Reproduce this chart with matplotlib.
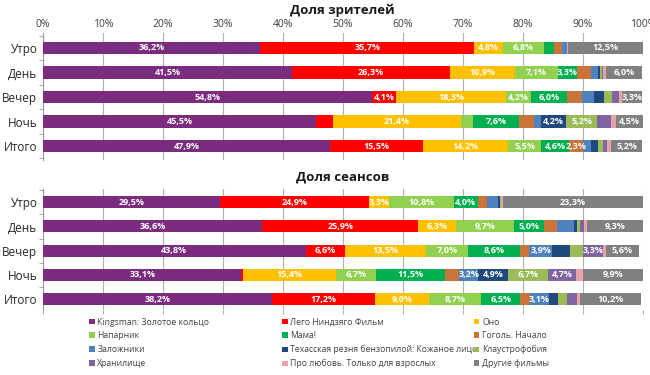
import matplotlib
matplotlib.use("Agg")
from matplotlib import pyplot as plt
from matplotlib.patches import Patch
import numpy as np

plt.rcParams['font.family'] = ['Open Sans', 'DejaVu Sans']

rows = ["Утро", "День", "Вечер", "Ночь", "Итого"]

films = ["Kingsman: Золотое кольцо", "Лего Ниндзяго Фильм", "Оно",
         "Напарник", "Мама!", "Гоголь. Начало",
         "Заложники", "Техасская резня бензопилой: Кожаное лицо", "Клаустрофобия",
         "Хранилище", "Про любовь. Только для взрослых", "Другие фильмы"]

colors = ["#7B2C7F", "#FF0000", "#FFC000",
          "#92D050", "#00B050", "#C8743A",
          "#4F81BD", "#1F497D", "#9BBB59",
          "#8064A2", "#E6A3A8", "#808080"]

# доля зрителей, % (rows: Утро, День, Вечер, Ночь, Итого)
viewers = {
    "Kingsman: Золотое кольцо": [36.2, 41.5, 54.8, 45.5, 47.9],
    "Лего Ниндзяго Фильм": [35.7, 26.3, 4.1, 2.8, 15.5],
    "Оно": [4.8, 10.9, 18.3, 21.4, 14.2],
    "Напарник": [6.8, 7.1, 4.2, 2.0, 5.5],
    "Мама!": [1.7, 3.3, 6.0, 7.6, 4.6],
    "Гоголь. Начало": [1.3, 2.3, 2.5, 2.5, 2.3],
    "Заложники": [0.9, 1.2, 2.0, 1.2, 1.3],
    "Техасская резня бензопилой: Кожаное лицо": [0.0, 0.3, 1.7, 4.2, 1.2],
    "Клаустрофобия": [0.0, 0.3, 1.3, 5.2, 0.8],
    "Хранилище": [0.0, 0.2, 1.1, 2.3, 0.8],
    "Про любовь. Только для взрослых": [0.2, 0.5, 0.6, 0.8, 0.6],
    "Другие фильмы": [12.5, 6.0, 3.3, 4.5, 5.2],
}

# доля сеансов, %
sessions = {
    "Kingsman: Золотое кольцо": [29.5, 36.6, 43.8, 33.1, 38.2],
    "Лего Ниндзяго Фильм": [24.9, 25.9, 6.6, 0.3, 17.2],
    "Оно": [3.3, 6.3, 13.5, 15.4, 9.0],
    "Напарник": [10.8, 9.7, 7.0, 6.7, 8.7],
    "Мама!": [4.0, 5.0, 8.6, 11.5, 6.5],
    "Гоголь. Начало": [1.5, 2.2, 1.5, 2.4, 1.6],
    "Заложники": [1.9, 2.9, 3.9, 3.2, 3.1],
    "Техасская резня бензопилой: Кожаное лицо": [0.3, 0.4, 2.9, 4.9, 1.5],
    "Клаустрофобия": [0.2, 0.6, 2.2, 6.7, 1.5],
    "Хранилище": [0.0, 0.6, 3.3, 4.7, 1.7],
    "Про любовь. Только для взрослых": [0.3, 0.5, 0.5, 1.2, 0.5],
    "Другие фильмы": [23.3, 9.3, 5.6, 9.9, 10.2],
}

# small segment that is labelled anyway
extra_labels = {("viewers", 4, "Гоголь. Начало")}


def draw(ax, data, name):
    y = np.arange(len(rows))
    left = np.zeros(len(rows))
    for film, col in zip(films, colors):
        vals = np.array(data[film])
        ax.barh(y, vals, left=left, height=0.5, color=col, zorder=3)
        for i, v in enumerate(vals):
            if v >= 3.0 or (name, i, film) in extra_labels:
                ax.text(left[i] + v / 2, y[i], f"{v:.1f}%".replace(".", ","),
                        ha="center", va="center", color="white",
                        fontsize=6.5, fontweight="bold", zorder=4)
        left += vals
    ax.set_xlim(0, 100)
    ax.set_yticks(y)
    ax.set_yticklabels(rows, fontsize=8.5, color="#262626")
    ax.set_xticks(np.arange(0, 101, 10))
    ax.grid(axis="x", color="#b0b0b0", linewidth=0.8, zorder=0)
    for s in ["top", "right", "bottom"]:
        ax.spines[s].set_visible(False)
    ax.spines["left"].set_color("#999999")
    ax.tick_params(axis="y", length=0, pad=4)
    # small marks on the category axis between the bars
    ax.set_yticks(np.arange(-0.5, len(rows), 1), minor=True)
    ax.tick_params(axis="y", which="minor", length=3, color="#999999")


fig = plt.figure(figsize=(6.5, 3.75), dpi=100)

ax1 = fig.add_axes([0.066, 0.573, 0.923, 0.339])
draw(ax1, viewers, "viewers")
ax1.set_ylim(4.57, -0.61)
ax1.xaxis.tick_top()
ax1.set_xticklabels([f"{t}%" for t in range(0, 101, 10)], fontsize=7.5, color="#404040")
ax1.tick_params(axis="x", length=0, pad=2)

ax2 = fig.add_axes([0.066, 0.173, 0.923, 0.323])
draw(ax2, sessions, "sessions")
ax2.set_ylim(4.45, -0.54)
ax2.set_xticklabels([])
ax2.tick_params(axis="x", length=3, color="#b0b0b0", direction="out")

fig.text(0.527, 0.972, "Доля зрителей", ha="center", va="center",
         fontsize=9.5, fontweight="bold", color="#1a1a1a")
fig.text(0.527, 0.528, "Доля сеансов", ha="center", va="center",
         fontsize=9.5, fontweight="bold", color="#1a1a1a")

handles = [Patch(facecolor=c, edgecolor="none") for c in colors]
col_x = [0.137, 0.434, 0.729]
for k in range(3):
    fig.legend(handles[k::3], films[k::3], loc="upper left",
               bbox_to_anchor=(col_x[k], 0.153), frameon=False, ncol=1,
               fontsize=6.2, handlelength=0.65, handleheight=0.65,
               handletextpad=0.3, labelspacing=0.55, borderaxespad=0,
               borderpad=0, labelcolor="#404040")

fig.savefig("out.png", dpi=100)
